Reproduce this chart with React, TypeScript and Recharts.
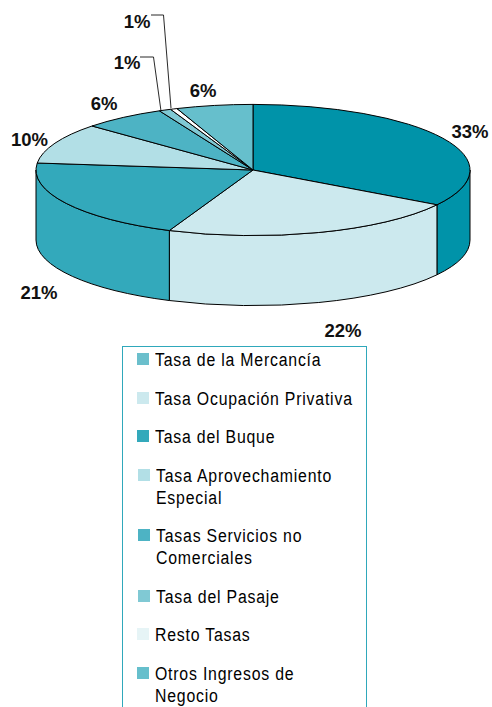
import React from "react";
import { PieChart, Pie, Legend } from "recharts";

// slice shares measured from the slice edges in the picture
const names = [
  "Tasa de la Mercancía",
  "Tasa Ocupación Privativa",
  "Tasa del Buque",
  "Tasa Aprovechamiento Especial",
  "Tasas Servicios no Comerciales",
  "Tasa del Pasaje",
  "Resto Tasas",
  "Otros Ingresos de Negocio",
];
const shares = [33.9, 22.4, 20.4, 10, 6.2, 0.9, 0.5, 5.7];
const labels = ["33%", "22%", "21%", "10%", "6%", "1%", "1%", "6%"];
const sliceColors = ["#0093a9", "#cce9ee", "#33a9bb", "#b2dfe6", "#4db3c4", "#80c9d4", "#ffffff", "#66bfcc"];
const legendColors = ["#6bbfcc", "#cce9ee", "#33a9bb", "#b2dfe6", "#4db3c4", "#80c9d4", "#e6f4f6", "#66bfcc"];
// rows 4-6 of the legend sit a pixel to the right
const legendNudge = [0, 0, 0, 1, 1, 1, 0, 0];

const labelSpots = [
  [470, 138],
  [343, 337],
  [39, 299],
  [29.5, 146],
  [104, 110],
  [127, 69],
  [137, 28],
  [203, 97],
];
// elbow leader lines for the two small slices, keyed by slice index
const leaders: Record<number, string> = {
  5: "140,57 153.5,57 161,111",
  6: "151,15 163.5,15 171,108",
};

const data = names.map((name, i) => ({ name, value: shares[i], fill: sliceColors[i] }));

const SQUASH = 65.6 / 217;
const DEPTH = 70;

function Slice3D(props: any) {
  const { cx, cy, outerRadius: rx, startAngle, endAngle, fill } = props;
  const ry = rx * SQUASH;
  const hi = Math.max(startAngle, endAngle);
  const lo = Math.min(startAngle, endAngle);
  const pt = (deg: number, dy = 0) => {
    const a = (deg * Math.PI) / 180;
    return `${cx + rx * Math.cos(a)} ${cy - ry * Math.sin(a) + dy}`;
  };
  const large = hi - lo > 180 ? 1 : 0;
  const top = `M ${cx} ${cy} L ${pt(hi)} A ${rx} ${ry} 0 ${large} 1 ${pt(lo)} Z`;

  // only the front half of the rim (0 to -180) shows a wall
  const wallHi = Math.min(hi, 0);
  const wallLo = Math.max(lo, -180);
  const wall =
    wallHi > wallLo
      ? `M ${pt(wallHi)} A ${rx} ${ry} 0 0 1 ${pt(wallLo)} L ${pt(wallLo, DEPTH)} A ${rx} ${ry} 0 0 0 ${pt(wallHi, DEPTH)} Z`
      : null;

  return (
    <g>
      {wall && <path d={wall} fill={fill} stroke="#000" strokeWidth={1} strokeLinejoin="round" />}
      <path d={top} fill={fill} stroke="#000" strokeWidth={1} strokeLinejoin="round" />
    </g>
  );
}

function SliceLabel({ index }: any) {
  const [x, y] = labelSpots[index];
  return (
    <g>
      {leaders[index] && <polyline points={leaders[index]} fill="none" stroke="#111" strokeWidth={0.9} />}
      <text x={x} y={y} textAnchor="middle" fontFamily="'Liberation Sans', Arial, sans-serif" fontWeight={700} fontSize={18.5} fill="#111">
        {labels[index]}
      </text>
    </g>
  );
}

function LegendBox({ payload }: any) {
  return (
    <div style={{ boxSizing: "border-box", height: 361, overflow: "hidden", border: "1.5px solid #2fa8bb", borderBottom: "none", paddingTop: 2 }}>
      {(payload ?? []).map((item: any, i: number) => (
        <div key={item.value} style={{ position: "relative", marginBottom: 16.5, lineHeight: "22px", textAlign: "left" }}>
          <span style={{ position: "absolute", left: 14 + legendNudge[i], top: 4, width: 12, height: 12, background: legendColors[i] }} />
          {/* no condensed font is installed, so squeeze the regular one */}
          <div style={{ marginLeft: 32 + legendNudge[i], width: 232, transform: "scaleX(0.88)", transformOrigin: "left top", fontFamily: "'Liberation Sans', sans-serif", fontSize: 18, letterSpacing: 0.9, color: "#000" }}>
            {item.value}
          </div>
        </div>
      ))}
    </div>
  );
}

export default function App() {
  return (
    <div style={{ position: "absolute", left: 0, top: 0, width: 492, height: 707, overflow: "hidden", background: "#fff" }}>
      <PieChart width={492} height={707} margin={{ top: 0, right: 0, bottom: 0, left: 0 }}>
        <Pie
          data={data}
          dataKey="value"
          nameKey="name"
          cx={253}
          cy={170}
          outerRadius={217}
          startAngle={90}
          endAngle={-270}
          shape={Slice3D}
          label={SliceLabel}
          labelLine={false}
          isAnimationActive={false}
        />
        <Legend content={LegendBox} itemSorter={null} wrapperStyle={{ left: 122, top: 346, width: 245, height: 361 }} />
      </PieChart>
    </div>
  );
}
